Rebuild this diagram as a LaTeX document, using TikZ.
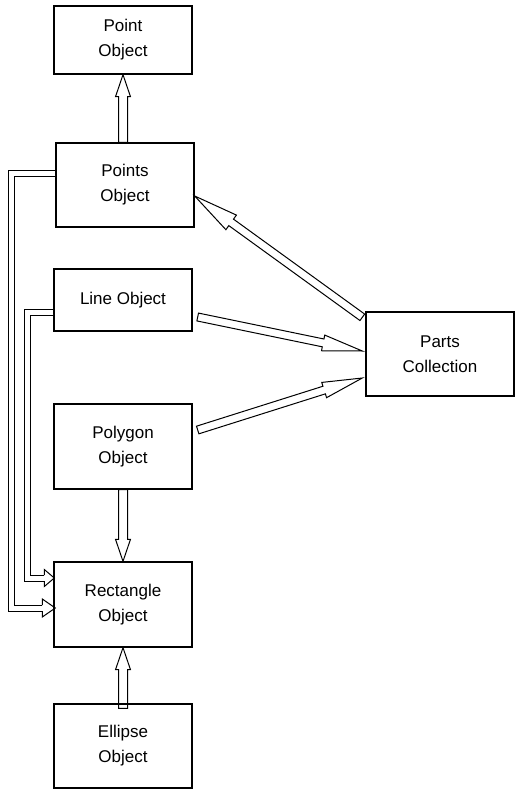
\documentclass[tikz,border=0pt]{standalone}
\usepackage{fontspec}
\setmainfont{Liberation Sans}
\usetikzlibrary{calc}
\begin{document}
\begin{tikzpicture}[x=1pt,y=1pt,
  box/.style={draw, line width=1.4pt, minimum width=138pt, inner sep=0pt, align=center, font=\fontsize{17}{25}\selectfont},
  conn/.style={line width=1pt, line join=miter},
  hw/.code={\def\hw{#1}}, hh/.code={\def\hh{#1}}, hl/.code={\def\hl{#1}},
  hollow/.style={hw=4.5pt, hh=7.5pt, hl=22pt, conn,
    to path={let \p1=(\tikztostart), \p2=(\tikztotarget), \p3=($(\p2)!\hl!(\p1)$) in
      ($(\p1)!\hw!90:(\p2)$) -- ($(\p3)!\hw!90:(\p2)$) -- ($(\p3)!\hh!90:(\p2)$) -- (\p2)
      -- ($(\p3)!\hh!-90:(\p2)$) -- ($(\p3)!\hw!-90:(\p2)$) -- ($(\p1)!\hw!-90:(\p2)$) -- cycle}},
  headonly/.style={hw=3pt, hh=9pt, conn,
    to path={let \p1=(\tikztostart), \p2=(\tikztotarget) in
      ($(\p1)!\hw!90:(\p2)$) -- ($(\p1)!\hh!90:(\p2)$) -- (\p2)
      -- ($(\p1)!\hh!-90:(\p2)$) -- ($(\p1)!\hw!-90:(\p2)$)}},
  dbl/.style={conn, double, double distance=5pt}
]
\useasboundingbox (0,0) rectangle (515,-790);
\node[box, minimum height=68pt] (pt) at (123,-40) {Point\\Object};
\node[box, minimum height=84pt] (pts) at (125,-185) {Points\\Object};
\node[box, minimum height=62pt] (line) at (123,-300) {Line Object};
\node[box, minimum height=85pt] (poly) at (123,-446.5) {Polygon\\Object};
\node[box, minimum height=85pt] (rect) at (123,-604.5) {Rectangle\\Object};
\node[box, minimum height=84pt] (ell) at (123,-746) {Ellipse\\Object};
\node[box, minimum height=84pt, minimum width=148pt] (parts) at (440,-354) {Parts\\Collection};

\draw[hollow] ([xshift=-2pt]pts.north) to (pt.south);
\draw[hollow] (poly.south) to (rect.north);
\draw[hollow] ([yshift=-5pt]ell.north) to (rect.south);
\draw[hollow, hl=45pt, hh=9pt, hw=4pt] ([xshift=-3pt,yshift=-6pt]parts.north west) to ([yshift=-11pt]pts.east);
\draw[hollow, hl=40pt, hh=8pt, hw=4pt] ([xshift=5pt,yshift=-17pt]line.east) to ([xshift=-3pt,yshift=3pt]parts.west);
\draw[hollow, hl=40pt, hh=8pt, hw=4pt] ([xshift=5pt,yshift=16.5pt]poly.east) to ([xshift=-3pt,yshift=-24pt]parts.west);

\draw[dbl] ([yshift=12pt]pts.west) -- ++(-43.5,0) |- ([xshift=-11pt,yshift=-3.5pt]rect.west) coordinate (a1);
\draw[headonly] (a1) to ([xshift=2pt,yshift=-3.5pt]rect.west);
\draw[dbl] ([yshift=-12pt]line.west) -- ++(-25.5,0) |- ([xshift=-9pt,yshift=26.5pt]rect.west) coordinate (a2);
\draw[headonly, hh=8.5pt] (a2) to ([xshift=1pt,yshift=26.5pt]rect.west);
\end{tikzpicture}
\end{document}
